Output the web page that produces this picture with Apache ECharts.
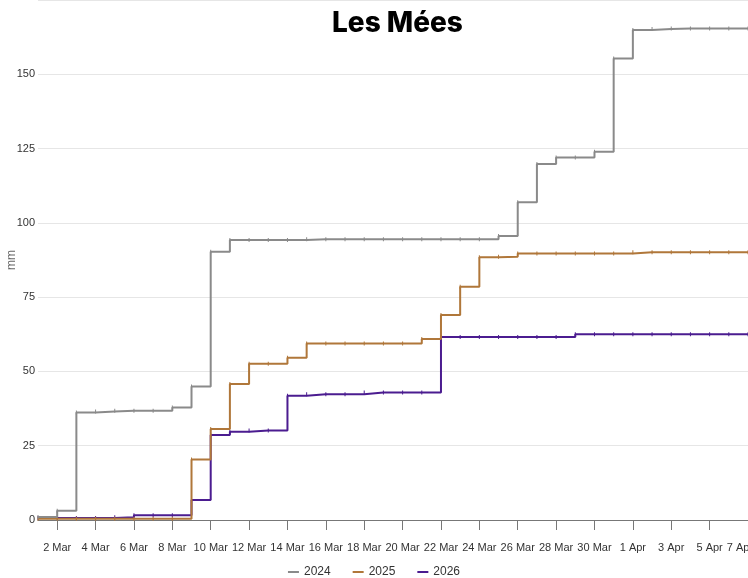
<!DOCTYPE html>
<html>
<head>
<meta charset="utf-8">
<script src="https://cdn.jsdelivr.net/npm/echarts@6/dist/echarts.min.js"></script>
<style>
  html, body { margin: 0; padding: 0; background: #fff; }
  #chart { width: 748px; height: 578px; }
</style>
</head>
<body>
<div id="chart"></div>
<script>
// jours du 1 mars au 7 avril
var days = ['1 Mar', '2 Mar', '3 Mar', '4 Mar', '5 Mar', '6 Mar', '7 Mar', '8 Mar', '9 Mar', '10 Mar',
	'11 Mar', '12 Mar', '13 Mar', '14 Mar', '15 Mar', '16 Mar', '17 Mar', '18 Mar', '19 Mar', '20 Mar',
	'21 Mar', '22 Mar', '23 Mar', '24 Mar', '25 Mar', '26 Mar', '27 Mar', '28 Mar', '29 Mar', '30 Mar',
	'31 Mar', '1 Apr', '2 Apr', '3 Apr', '4 Apr', '5 Apr', '6 Apr', '7 Apr'];

// cumul de pluie (mm)
var y2024 = [1.0, 3.1, 36.2, 36.5, 36.8, 36.8, 36.8, 37.9, 44.9, 90.3,
	94.2, 94.2, 94.2, 94.2, 94.5, 94.5, 94.5, 94.5, 94.5, 94.5,
	94.5, 94.5, 94.5, 94.5, 95.6, 106.9, 119.8, 122.0, 122.0, 123.9,
	155.3, 164.9, 165.2, 165.4, 165.4, 165.4, 165.4, 165.4];
var y2025 = [0.4, 0.4, 0.4, 0.4, 0.4, 0.4, 0.4, 0.4, 20.4, 30.6,
	45.8, 52.6, 52.6, 54.6, 59.4, 59.4, 59.4, 59.4, 59.4, 59.4,
	60.9, 69.0, 78.5, 88.4, 88.6, 89.7, 89.7, 89.7, 89.7, 89.7,
	89.7, 90.1, 90.1, 90.1, 90.1, 90.1, 90.1, 90.1];
var y2026 = [0.7, 0.7, 0.7, 0.7, 0.9, 1.6, 1.6, 1.6, 6.7, 28.6,
	29.7, 30.1, 30.1, 41.8, 42.3, 42.3, 42.3, 42.9, 42.9, 42.9,
	42.9, 61.6, 61.6, 61.6, 61.6, 61.6, 61.6, 61.6, 62.5, 62.5,
	62.5, 62.5, 62.5, 62.5, 62.5, 62.5, 62.5, 62.5];

var years = ['2024', '2025', '2026'];
var colors = ['#8a8a8a', '#b0773a', '#4b1c90'];
var values = [y2024, y2025, y2026];

var labelFont = "'Liberation Sans', Arial, sans-serif";

function everyOther(index) {
	return index % 2 === 1;
}

var series = years.map(function(name, i) {
	return {
		name: name,
		type: 'line',
		step: 'end',
		data: values[i],
		symbol: 'rect',
		symbolSize: [1, 4],
		showSymbol: true,
		itemStyle: { color: colors[i] },
		lineStyle: { color: colors[i], width: 2 },
		emphasis: { disabled: true },
		z: 3 - i
	};
});

var myChart = echarts.init(document.getElementById('chart'));
var option = {
	animation: false,
	title: {
		text: 'Les Mées',
		left: 327,
		top: 5,
		textStyle: {
			fontFamily: 'Inter, sans-serif',
			fontWeight: 800,
			fontSize: 28,
			color: '#000'
		}
	},
	legend: {
		data: years,
		left: 'center',
		top: 561,
		icon: 'rect',
		itemWidth: 11,
		itemHeight: 2,
		itemGap: 22,
		textStyle: {
			fontFamily: labelFont,
			fontSize: 12,
			color: '#333'
		}
	},
	grid: {
		left: 38,
		right: 0,
		top: 0,
		bottom: 58,
		containLabel: false,
		outerBoundsMode: 'none'
	},
	xAxis: {
		type: 'category',
		boundaryGap: false,
		data: days,
		axisLine: { lineStyle: { color: '#777', width: 1 } },
		axisTick: {
			interval: everyOther,
			length: 10,
			lineStyle: { color: '#777' }
		},
		axisLabel: {
			interval: everyOther,
			margin: 22,
			showMaxLabel: true,
			hideOverlap: false,
			fontFamily: labelFont,
			fontSize: 11,
			color: '#333',
			formatter: function(value, index) {
				return index === days.length - 1 ? '{last|' + value + '}' : value;
			},
			rich: {
				last: {
					fontFamily: labelFont,
					fontSize: 11,
					color: '#333',
					padding: [0, 16, 0, 0]
				}
			}
		},
		splitLine: { show: false }
	},
	yAxis: {
		type: 'value',
		min: 0,
		max: 175,
		interval: 25,
		name: 'mm',
		nameLocation: 'middle',
		nameGap: 20,
		nameMoveOverlap: false,
		nameTextStyle: {
			fontFamily: labelFont,
			fontSize: 12,
			color: '#666'
		},
		axisLine: { show: false },
		axisTick: { show: false },
		axisLabel: {
			margin: 3,
			showMaxLabel: false,
			fontFamily: labelFont,
			fontSize: 11,
			color: '#333'
		},
		splitLine: {
			show: true,
			lineStyle: { color: '#e6e6e6' }
		}
	},
	series: series
};
myChart.setOption(option);
</script>
</body>
</html>
